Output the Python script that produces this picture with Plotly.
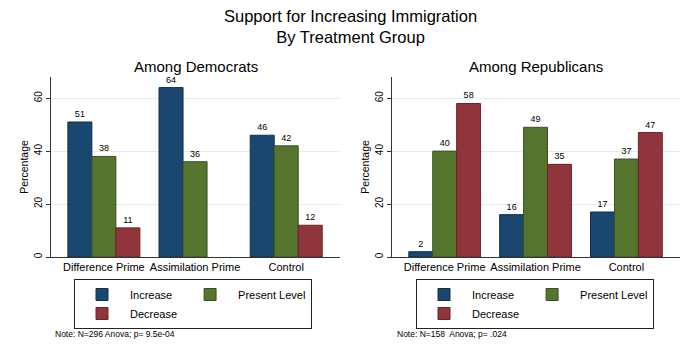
import plotly.graph_objects as go

groups = ["Difference Prime", "Assimilation Prime", "Control"]
series_names = ["Increase", "Present Level", "Decrease"]
dem_increase = [51, 64, 46]
dem_present = [38, 36, 42]
dem_decrease = [11, None, 12]
rep_increase = [2, 16, 17]
rep_present = [40, 49, 37]
rep_decrease = [58, 35, 47]
y_ticks = [0, 20, 40, 60]
title_lines = ["Support for Increasing Immigration", "By Treatment Group"]
panel_titles = ["Among Democrats", "Among Republicans"]
notes = ["Note: N=296 Anova; p= 9.5e-04", "Note: N=158  Anova; p= .024"]

colors = ["#1a476f", "#55752f", "#90353b"]
edges = ["#10304c", "#3b5220", "#6a2429"]
FONT = "Liberation Sans, Arial, sans-serif"

fig = go.Figure()
panels = [
    ("x", "y", "legend", ["a", "b", "a"], [dem_increase, dem_present, dem_decrease]),
    ("x2", "y2", "legend2", ["c", "d", "c"], [rep_increase, rep_present, rep_decrease]),
]
for xa, ya, leg, lg, vals in panels:
    for i, (name, v) in enumerate(zip(series_names, vals)):
        fig.add_trace(go.Bar(
            x=groups, y=v, name=name, xaxis=xa, yaxis=ya, legend=leg,
            legendgroup=lg[i],
            marker=dict(color=colors[i], line=dict(color=edges[i], width=1)),
            text=[("" if t is None else f"{t:.0f}") for t in v],
            textposition="outside", cliponaxis=False,
            textfont=dict(size=9, color="black", family=FONT),
        ))

ax_common = dict(showline=True, linecolor="#333333", linewidth=1)
xax = dict(ax_common, range=[-0.58, 2.59], ticks="", tickfont=dict(size=11, color="black"),
           showgrid=False)
yax = dict(ax_common, range=[0, 68], tickvals=y_ticks, ticks="outside", ticklen=4,
           tickcolor="#333333", tickangle=-90, tickfont=dict(size=10, color="black"),
           showgrid=True, gridcolor="#e6ecec", gridwidth=1, zeroline=False,
           title=dict(text="Percentage", font=dict(size=10.5, color="black"), standoff=2))

leg_common = dict(y=1 - 279 / 350, xanchor="left", yanchor="top",
                  orientation="h", traceorder="grouped", tracegroupgap=38,
                  bordercolor="#222222", borderwidth=1, itemwidth=46,
                  font=dict(size=11, color="black"))

fig.update_layout(
    width=700, height=350,
    margin=dict(l=0, r=0, t=0, b=0),
    paper_bgcolor="white", plot_bgcolor="white",
    font=dict(family=FONT, color="black"),
    barmode="group", bargap=0.21, bargroupgap=0,
    xaxis=dict(xax, domain=[51 / 700, 340 / 700], anchor="y"),
    yaxis=dict(yax, domain=[93 / 350, 273 / 350], anchor="x"),
    xaxis2=dict(xax, domain=[392 / 700, 680 / 700], anchor="y2"),
    yaxis2=dict(yax, domain=[93 / 350, 273 / 350], anchor="x2"),
    legend=dict(leg_common, x=74 / 700),
    legend2=dict(leg_common, x=416 / 700),
)

ann = [dict(text="<br>".join(title_lines), x=0.5, y=1 - 26.5 / 350, xref="paper", yref="paper",
            showarrow=False, font=dict(size=16.5, color="black"),
            xanchor="center", yanchor="middle", align="center")]
for t, xc in zip(panel_titles, [(51 + 340) / 2 / 700, (392 + 680) / 2 / 700]):
    ann.append(dict(text=t, x=xc, y=1 - 66 / 350, xref="paper", yref="paper",
                    showarrow=False, font=dict(size=15, color="black"),
                    xanchor="center", yanchor="middle"))
for t, xl in zip(notes, [53 / 700, 395 / 700]):
    ann.append(dict(text=t, x=xl, y=1 - 334 / 350, xref="paper", yref="paper",
                    showarrow=False, font=dict(size=8.5, color="black"),
                    xanchor="left", yanchor="middle"))
fig.update_layout(annotations=ann)

fig.write_html("out.html")
